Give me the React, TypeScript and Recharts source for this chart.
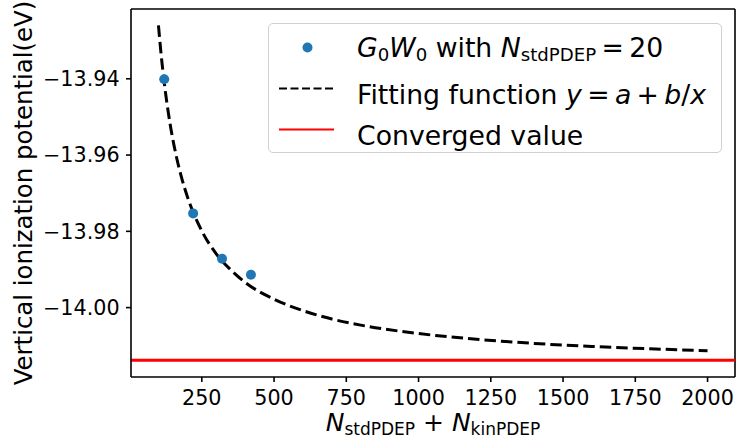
import { ComposedChart, Scatter, Line, XAxis, YAxis, ReferenceLine, Legend } from "recharts";

// values
const measuredN = [120, 220, 320, 420];
const measuredIP = [-13.9401, -13.9753, -13.9872, -13.9914];

const fitN = [100, 110, 120, 140, 160, 180, 200, 250, 300, 350, 400, 500, 600, 700, 800, 1000, 1200, 1400, 1600, 1800, 2000];
const fitIP = [
  -13.926, -13.9342, -13.941, -13.9517, -13.9597, -13.9659, -13.9709, -13.9799, -13.9859, -13.9901, -13.9934,
  -13.9978, -14.0008, -14.003, -14.0046, -14.0068, -14.0083, -14.0094, -14.0102, -14.0108, -14.0113,
];

const convergedIP = -14.0138;

const xTicks = [250, 500, 750, 1000, 1250, 1500, 1750, 2000];
const yTicks = [-14.0, -13.98, -13.96, -13.94];
const xDomain = [5, 2095];
const yDomain = [-14.0182, -13.9217];

const measured = measuredN.map((x, i) => ({ x, y: measuredIP[i] }));
const fit = fitN.map((x, i) => ({ x, y: fitIP[i] }));

const FONT = "DejaVu Sans";
const BLUE = "#1f77b4";
const TH = "\u2009"; // thin space, close to mathtext operator spacing

const fmtY = (v: number) => (v < 0 ? "\u2212" : "") + Math.abs(v).toFixed(2);

const XLabel = (props: any) => {
  const vb = props.viewBox || {};
  const cx = vb.x + vb.width / 2;
  return (
    <text x={cx} y={431} textAnchor="middle" fontFamily={FONT} fontSize={25} fill="#000">
      <tspan fontStyle="italic">N</tspan>
      <tspan fontSize={17} dy={4}>stdPDEP</tspan>
      <tspan dy={-4}> + </tspan>
      <tspan fontStyle="italic">N</tspan>
      <tspan fontSize={17} dy={4}>kinPDEP</tspan>
    </text>
  );
};

const YLabel = () => (
  <text transform="translate(31.7,193) rotate(-90)" textAnchor="middle" fontFamily={FONT} fontSize={24.4} fill="#000">
    Vertical ionization potential(eV)
  </text>
);

const sub = { fontSize: "0.68em", verticalAlign: "-0.2em" } as const;

const LegendBox = () => (
  <div
    style={{
      position: "relative",
      width: 454,
      height: 130,
      boxSizing: "border-box",
      border: "1.5px solid #d0d0d0",
      borderRadius: 5,
      background: "rgba(255,255,255,0.85)",
      fontFamily: FONT,
      fontSize: 26.7,
      color: "#000",
    }}
  >
    {/* handles */}
    <svg width={454} height={130} style={{ position: "absolute", left: 0, top: 0 }}>
      <circle cx={38.5} cy={23.5} r={5} fill={BLUE} />
      <line x1={10} x2={65} y1={64.5} y2={64.5} stroke="#000" strokeWidth={2.2} strokeDasharray="8 3.5" />
      <line x1={10} x2={65} y1={105.5} y2={105.5} stroke="red" strokeWidth={2.2} />
    </svg>
    <div style={{ position: "absolute", left: 88, top: 3, lineHeight: "41px", whiteSpace: "nowrap" }}>
      <div>
        <i>G</i><span style={sub}>0</span><i>W</i><span style={sub}>0</span> with <i>N</i>
        <span style={sub}>stdPDEP</span>{TH}={TH}20
      </div>
      <div>
        Fitting function <i>y</i>{TH}={TH}<i>a</i>{TH}+{TH}<i>b</i>/<i>x</i>
      </div>
      <div>Converged value</div>
    </div>
  </div>
);

export default function App() {
  return (
    <div>
      <style>{"body{margin:0}"}</style>
      <ComposedChart width={738} height={440} margin={{ top: 9, right: 3, bottom: 0, left: 0 }}>
        <XAxis
          type="number"
          dataKey="x"
          domain={xDomain}
          ticks={xTicks}
          allowDataOverflow
          height={63}
          tickSize={5}
          tickMargin={8}
          stroke="#000"
          strokeWidth={1.6}
          tick={{ fill: "#000", fontSize: 20.7, fontFamily: FONT }}
          label={<XLabel />}
        />
        <YAxis
          type="number"
          dataKey="y"
          domain={yDomain}
          ticks={yTicks}
          allowDataOverflow
          width={131}
          tickSize={5}
          tickMargin={6.4}
          stroke="#000"
          strokeWidth={1.6}
          tickFormatter={fmtY}
          tick={{ fill: "#000", fontSize: 20.7, fontFamily: FONT }}
          label={<YLabel />}
        />
        <ReferenceLine y={yDomain[1]} stroke="#000" strokeWidth={1.6} />
        <ReferenceLine x={xDomain[1]} stroke="#000" strokeWidth={1.6} />
        <Scatter
          data={measured}
          dataKey="y"
          isAnimationActive={false}
          shape={(p: any) => <circle cx={p.cx} cy={p.cy} r={5} fill={BLUE} />}
        />
        <Line
          data={fit}
          dataKey="y"
          type="monotone"
          stroke="#000"
          strokeWidth={3}
          strokeDasharray="11.5 5"
          dot={false}
          activeDot={false}
          isAnimationActive={false}
        />
        <ReferenceLine y={convergedIP} stroke="red" strokeWidth={3} />
        <Legend
          layout="horizontal"
          verticalAlign="middle"
          wrapperStyle={{ left: 268, top: 22.7, width: 454, height: 130 }}
          content={() => <LegendBox />}
        />
      </ComposedChart>
    </div>
  );
}
